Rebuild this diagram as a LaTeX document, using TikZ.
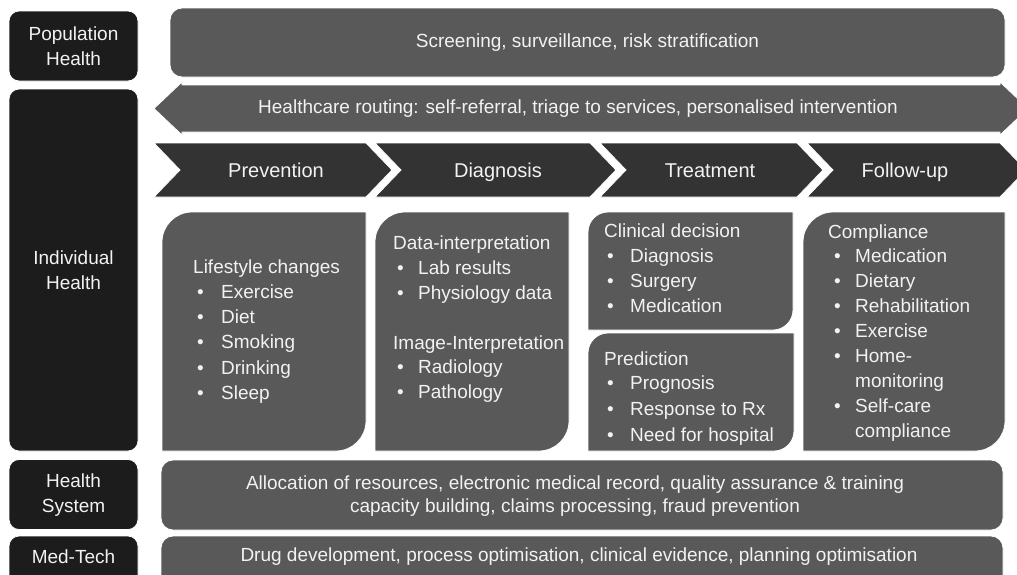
\documentclass[tikz,border=0pt]{standalone}
\usepackage{fontspec}
\setmainfont{Liberation Sans}

\definecolor{labelblack}{HTML}{1C1C1C}
\definecolor{boxgray}{HTML}{595959}
\definecolor{chevgray}{HTML}{333333}
\definecolor{txtwhite}{HTML}{F2F2F2}

\begin{document}
\begin{tikzpicture}[x=1pt, y=-1pt,
        labelbox/.style={fill=labelblack, draw=white, line width=0.8, rounded corners=10},
        graybox/.style={fill=boxgray, draw=white, line width=0.8},
        chevron/.style={fill=chevgray, draw=white, line width=0.8},
        txt/.style={text=txtwhite, inner sep=0, align=center, font=\fontsize{19}{25}\selectfont},
        item/.style={text=txtwhite, inner sep=0, anchor=base west, font=\fontsize{19}{23}\selectfont}]
        \useasboundingbox (0, 0) rectangle (1017, 574);

        % Left labels:
        \node[labelbox, minimum width=129, minimum height=70] (pop) at (73.5, 46) {};
        \node[labelbox, minimum width=129, minimum height=362] (ind) at (73.5, 270) {};
        \node[labelbox, minimum width=129, minimum height=70] (sys) at (73.5, 494.5) {};
        \draw[labelbox] (9, 600) rectangle (138, 536);
        \node[txt] (pop-text) at (73.5, 46) {Population\\Health};
        \node[txt] (ind-text) at (73.5, 270) {Individual\\Health};
        \node[txt] (sys-text) at (73.5, 495) {Health\\System};
        \node[txt] (med-text) at (73.5, 557) {Med-Tech};

        % Population row:
        \node[graybox, rounded corners=12, minimum width=835, minimum height=69] (screen) at (587.5, 42.5) {};
        \node[txt] (screen-text) at (587.5, 43) {Screening, surveillance, risk stratification};

        % Routing arrow:
        \draw[graybox] (154, 108.5) -- (182, 82) -- (182, 85) -- (1000, 85) -- (1000, 82) -- (1028, 108.5)
                       -- (1000, 135) -- (1000, 132) -- (182, 132) -- (182, 135) -- cycle;
        \node[txt] (route-text) at (578, 108.5) {Healthcare routing: self-referral, triage to services, personalised intervention};

        % Chevrons:
        \foreach \l/\r in {154/366, 375/590, 600/797, 807/1000}
            \draw[chevron] (\l, 143) -- (\r, 143) -- (\r+26, 170) -- (\r, 197) -- (\l, 197) -- (\l+26, 170) -- cycle;
        \foreach \n/\x/\t in {prev/276/Prevention, diag/498/Diagnosis, treat/710/Treatment, follow/905/Follow-up}
            \node[txt, anchor=base, font=\fontsize{20}{24}\selectfont] (\n) at (\x, 177) {\t};

        % Boxes under the chevrons:
        \foreach \xa/\ya/\xb/\yb/\r in {162/212/366/451/30, 375/212/569/451/30, 588/212/793/330/20,
                                      588/333/794/451/20, 803/212/1005/451/30}
            \draw[graybox] (\xa, \yb) -- (\xa, \ya+\r) .. controls (\xa, \ya+0.45*\r) and (\xa+0.45*\r, \ya) .. (\xa+\r, \ya)
                           -- (\xb, \ya) -- (\xb, \yb-\r) .. controls (\xb, \yb-0.45*\r) and (\xb-0.45*\r, \yb) .. (\xb-\r, \yb) -- cycle;

        % Prevention list:
        \node[item] (prev-head) at (193, 273) {Lifestyle changes};
        \foreach \t [count=\i] in {Exercise, Diet, Smoking, Drinking, Sleep} {
            \node[item] (prev-\i) at (221, 273+25.3*\i) {\t};
            \node[item] (prev-dot-\i) at (197, 273+25.3*\i) {\textbullet};
        }

        % Diagnosis list:
        \node[item] (diag-head) at (393, 249) {Data-interpretation};
        \foreach \t [count=\i] in {Lab results, Physiology data} {
            \node[item] (diag-\i) at (418, 249+25*\i) {\t};
            \node[item] (diag-dot-\i) at (397, 249+25*\i) {\textbullet};
        }
        \node[item] (img-head) at (393, 349) {Image-Interpretation};
        \foreach \t [count=\i] in {Radiology, Pathology} {
            \node[item] (img-\i) at (418, 349+24.5*\i) {\t};
            \node[item] (img-dot-\i) at (397, 349+24.5*\i) {\textbullet};
        }

        % Treatment lists:
        \node[item] (clin-head) at (604, 237) {Clinical decision};
        \foreach \t [count=\i] in {Diagnosis, Surgery, Medication} {
            \node[item] (clin-\i) at (630, 237+25.3*\i) {\t};
            \node[item] (clin-dot-\i) at (607, 237+25.3*\i) {\textbullet};
        }
        \node[item] (pred-head) at (604, 365) {Prediction};
        \foreach \t [count=\i] in {Prognosis, Response to Rx, Need for hospital} {
            \node[item] (pred-\i) at (630, 364+25.7*\i) {\t};
            \node[item] (pred-dot-\i) at (607, 364+25.7*\i) {\textbullet};
        }

        % Follow-up list:
        \node[item] (comp-head) at (828, 238) {Compliance};
        \foreach \t [count=\i] in {Medication, Dietary, Rehabilitation, Exercise, Home-, monitoring, Self-care, compliance}
            \node[item] (comp-\i) at (855, 237+25*\i) {\t};
        \foreach \i in {1, 2, 3, 4, 5, 7}
            \node[item] (comp-dot-\i) at (834, 237+25*\i) {\textbullet};

        % Health system and Med-Tech rows:
        \node[graybox, rounded corners=12, minimum width=842, minimum height=70] (system) at (582, 495) {};
        \node[txt, font=\fontsize{19}{23.5}\selectfont] (system-text) at (575, 496) {Allocation of resources, electronic medical record, quality assurance \& training\\capacity building, claims processing, fraud prevention};
        \draw[graybox, rounded corners=12] (161, 600) rectangle (1003, 536);
        \node[txt] (medtech-text) at (579, 557) {Drug development, process optimisation, clinical evidence, planning optimisation};
    \end{tikzpicture}
\end{document}
